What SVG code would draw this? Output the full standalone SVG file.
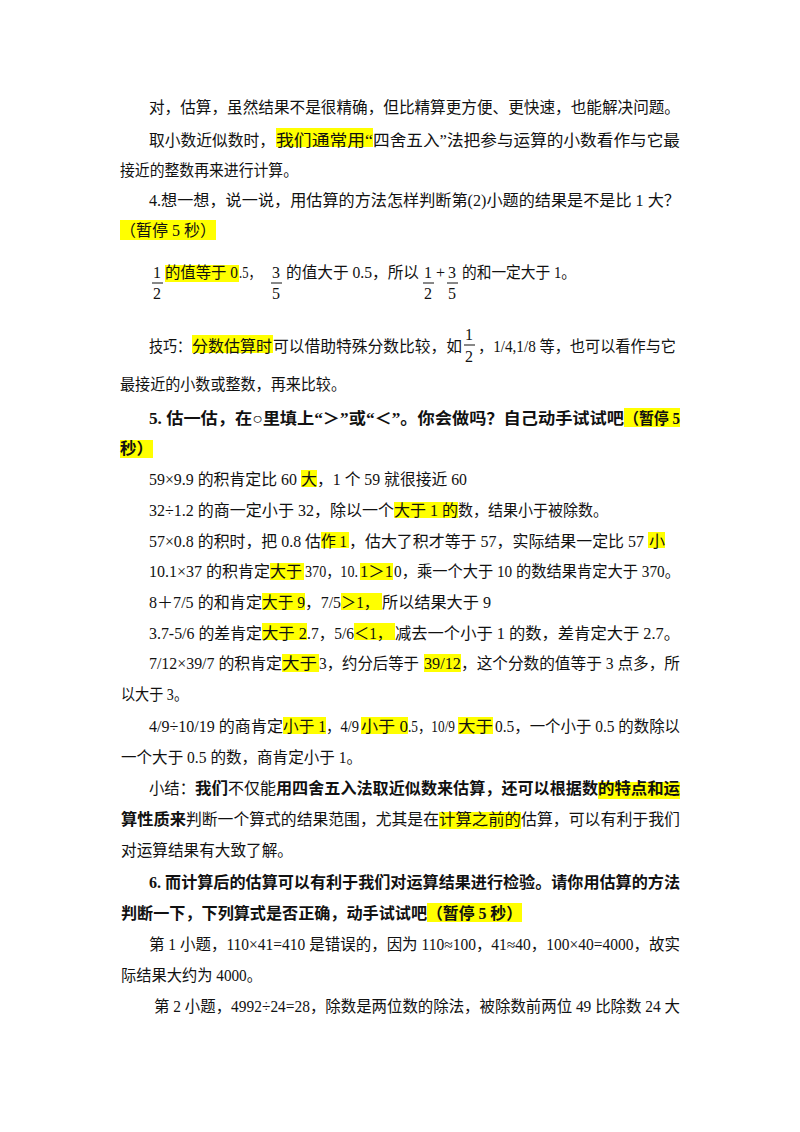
<svg xmlns="http://www.w3.org/2000/svg" width="800" height="1132" viewBox="0 0 800 1132">
<style>
text{font-family:"Liberation Serif","Noto Sans CJK SC",serif;font-size:16px;fill:#111}
.b{font-weight:bold}
.h{fill:#ffff00}
</style>
<rect width="800" height="1132" fill="#fff"/>
<g id="highlights">
<rect class="h" x="276" y="128" width="97" height="19"/>
<rect class="h" x="120" y="220" width="96" height="20"/>
<rect class="h" x="165" y="265" width="74" height="17"/>
<rect class="h" x="192" y="335" width="81" height="18"/>
<rect class="h" x="624" y="408" width="56" height="19"/>
<rect class="h" x="120" y="440" width="33" height="18"/>
<rect class="h" x="301" y="470" width="16" height="17"/>
<rect class="h" x="394" y="502" width="64" height="16"/>
<rect class="h" x="321" y="532" width="28" height="16"/>
<rect class="h" x="648" y="532" width="17" height="16"/>
<rect class="h" x="270" y="563" width="34" height="17"/>
<rect class="h" x="360" y="563" width="33" height="17"/>
<rect class="h" x="262" y="593" width="43" height="17"/>
<rect class="h" x="341" y="593" width="41" height="17"/>
<rect class="h" x="262" y="623" width="45" height="17"/>
<rect class="h" x="354" y="623" width="41" height="17"/>
<rect class="h" x="282" y="654" width="37" height="18"/>
<rect class="h" x="424" y="654" width="37" height="18"/>
<rect class="h" x="283" y="717" width="43" height="17"/>
<rect class="h" x="361" y="717" width="47" height="17"/>
<rect class="h" x="458" y="717" width="35" height="17"/>
<rect class="h" x="598" y="782" width="82" height="17"/>
<rect class="h" x="439" y="812" width="82" height="17"/>
<rect class="h" x="427" y="903" width="95" height="19"/>
</g>
<g id="text">
<text x="149" y="113" textLength="531" lengthAdjust="spacingAndGlyphs">对，估算，虽然结果不是很精确，但比精算更方便、更快速，也能解决问题。</text>
<text x="149" y="146" textLength="126" lengthAdjust="spacingAndGlyphs">取小数近似数时，</text>
<text x="276" y="146" textLength="97" lengthAdjust="spacingAndGlyphs">我们通常用“</text>
<text x="373" y="146" textLength="307" lengthAdjust="spacingAndGlyphs">四舍五入”法把参与运算的小数看作与它最</text>
<text x="120" y="176" textLength="178" lengthAdjust="spacingAndGlyphs">接近的整数再来进行计算。</text>
<text x="149" y="206" textLength="531" lengthAdjust="spacingAndGlyphs">4.想一想，说一说，用估算的方法怎样判断第(2)小题的结果是不是比 1 大？</text>
<text x="120" y="236" textLength="96" lengthAdjust="spacingAndGlyphs">（暂停 5 秒）</text>

<text x="153" y="278">1</text><line x1="152" y1="283" x2="163" y2="283" stroke="#111"/><text x="153" y="299">2</text>
<text x="165" y="278" textLength="73" lengthAdjust="spacingAndGlyphs">的值等于 0</text>
<text x="239" y="278" textLength="22" lengthAdjust="spacingAndGlyphs">.5，</text>
<text x="272" y="278">3</text><line x1="271" y1="283" x2="282" y2="283" stroke="#111"/><text x="272" y="299">5</text>
<text x="286" y="278" textLength="133" lengthAdjust="spacingAndGlyphs">的值大于 0.5，所以</text>
<text x="424" y="278">1</text><line x1="423" y1="283" x2="434" y2="283" stroke="#111"/><text x="424" y="299">2</text>
<text x="436" y="278">+</text>
<text x="448" y="278">3</text><line x1="447" y1="283" x2="458" y2="283" stroke="#111"/><text x="448" y="299">5</text>
<text x="462" y="278" textLength="114" lengthAdjust="spacingAndGlyphs">的和一定大于 1。</text>

<text x="149" y="352" textLength="42" lengthAdjust="spacingAndGlyphs">技巧：</text>
<text x="192" y="352" textLength="80" lengthAdjust="spacingAndGlyphs">分数估算时</text>
<text x="273" y="352" textLength="189" lengthAdjust="spacingAndGlyphs">可以借助特殊分数比较，如</text>
<text x="465" y="340">1</text><line x1="464" y1="345" x2="475" y2="345" stroke="#111"/><text x="465" y="362">2</text>
<text x="478" y="352" textLength="198" lengthAdjust="spacingAndGlyphs">，1/4,1/8 等，也可以看作与它</text>
<text x="120" y="390" textLength="226" lengthAdjust="spacingAndGlyphs">最接近的小数或整数，再来比较。</text>

<text class="b" x="149" y="424" textLength="475" lengthAdjust="spacingAndGlyphs">5. 估一估，在○里填上“＞”或“＜”。你会做吗？自己动手试试吧</text>
<text class="b" x="624" y="424" textLength="56" lengthAdjust="spacingAndGlyphs">（暂停 5</text>
<text class="b" x="120" y="454" textLength="33" lengthAdjust="spacingAndGlyphs">秒）</text>

<text x="149" y="485" textLength="148" lengthAdjust="spacingAndGlyphs">59×9.9 的积肯定比 60</text>
<text x="301" y="485">大</text>
<text x="317" y="485" textLength="150" lengthAdjust="spacingAndGlyphs">，1 个 59 就很接近 60</text>

<text x="149" y="516" textLength="245" lengthAdjust="spacingAndGlyphs">32÷1.2 的商一定小于 32，除以一个</text>
<text x="394" y="516" textLength="64" lengthAdjust="spacingAndGlyphs">大于 1 的</text>
<text x="458" y="516" textLength="150" lengthAdjust="spacingAndGlyphs">数，结果小于被除数。</text>

<text x="149" y="547" textLength="172" lengthAdjust="spacingAndGlyphs">57×0.8 的积时，把 0.8 估</text>
<text x="321" y="547" textLength="26" lengthAdjust="spacingAndGlyphs">作 1</text>
<text x="349" y="547" textLength="295" lengthAdjust="spacingAndGlyphs">，估大了积才等于 57，实际结果一定比 57</text>
<text x="649" y="547">小</text>

<text x="149" y="577" textLength="121" lengthAdjust="spacingAndGlyphs">10.1×37 的积肯定</text>
<text x="270" y="577" textLength="32" lengthAdjust="spacingAndGlyphs">大于</text>
<text x="305" y="577" textLength="53" lengthAdjust="spacingAndGlyphs">370，10.</text>
<text x="360" y="577" textLength="33" lengthAdjust="spacingAndGlyphs">1＞1</text>
<text x="394" y="577" textLength="286" lengthAdjust="spacingAndGlyphs">0，乘一个大于 10 的数结果肯定大于 370。</text>

<text x="149" y="608" textLength="113" lengthAdjust="spacingAndGlyphs">8＋7/5 的和肯定</text>
<text x="262" y="608" textLength="43" lengthAdjust="spacingAndGlyphs">大于 9</text>
<text x="305" y="608" textLength="36" lengthAdjust="spacingAndGlyphs">，7/5</text>
<text x="341" y="608" textLength="38" lengthAdjust="spacingAndGlyphs">＞1，</text>
<text x="382" y="608" textLength="109" lengthAdjust="spacingAndGlyphs">所以结果大于 9</text>

<text x="149" y="639" textLength="113" lengthAdjust="spacingAndGlyphs">3.7-5/6 的差肯定</text>
<text x="262" y="639" textLength="45" lengthAdjust="spacingAndGlyphs">大于 2</text>
<text x="307" y="639" textLength="47" lengthAdjust="spacingAndGlyphs">.7，5/6</text>
<text x="354" y="639" textLength="38" lengthAdjust="spacingAndGlyphs">＜1，</text>
<text x="395" y="639" textLength="285" lengthAdjust="spacingAndGlyphs">减去一个小于 1 的数，差肯定大于 2.7。</text>

<text x="149" y="669" textLength="133" lengthAdjust="spacingAndGlyphs">7/12×39/7 的积肯定</text>
<text x="282" y="669" textLength="35" lengthAdjust="spacingAndGlyphs">大于</text>
<text x="319" y="669" textLength="100" lengthAdjust="spacingAndGlyphs">3，约分后等于</text>
<text x="424" y="669" textLength="37" lengthAdjust="spacingAndGlyphs">39/12</text>
<text x="461" y="669" textLength="219" lengthAdjust="spacingAndGlyphs">，这个分数的值等于 3 点多，所</text>
<text x="121" y="700" textLength="67" lengthAdjust="spacingAndGlyphs">以大于 3。</text>

<text x="149" y="732" textLength="134" lengthAdjust="spacingAndGlyphs">4/9÷10/19 的商肯定</text>
<text x="283" y="732" textLength="43" lengthAdjust="spacingAndGlyphs">小于 1</text>
<text x="326" y="732" textLength="33" lengthAdjust="spacingAndGlyphs">，4/9</text>
<text x="361" y="732" textLength="47" lengthAdjust="spacingAndGlyphs">小于 0</text>
<text x="408" y="732" textLength="47" lengthAdjust="spacingAndGlyphs">.5，10/9</text>
<text x="458" y="732" textLength="35" lengthAdjust="spacingAndGlyphs">大于</text>
<text x="495" y="732" textLength="185" lengthAdjust="spacingAndGlyphs">0.5，一个小于 0.5 的数除以</text>
<text x="121" y="763" textLength="241" lengthAdjust="spacingAndGlyphs">一个大于 0.5 的数，商肯定小于 1。</text>

<text x="149" y="794" textLength="46" lengthAdjust="spacingAndGlyphs">小结：</text>
<text class="b" x="195" y="794" textLength="33" lengthAdjust="spacingAndGlyphs">我们</text>
<text x="228" y="794" textLength="48" lengthAdjust="spacingAndGlyphs">不仅能</text>
<text class="b" x="276" y="794" textLength="322" lengthAdjust="spacingAndGlyphs">用四舍五入法取近似数来估算，还可以根据数</text>
<text class="b" x="598" y="794" textLength="82" lengthAdjust="spacingAndGlyphs">的特点和运</text>
<text class="b" x="121" y="825" textLength="65" lengthAdjust="spacingAndGlyphs">算性质来</text>
<text x="186" y="825" textLength="253" lengthAdjust="spacingAndGlyphs">判断一个算式的结果范围，尤其是在</text>
<text x="439" y="825" textLength="82" lengthAdjust="spacingAndGlyphs">计算之前的</text>
<text x="521" y="825" textLength="159" lengthAdjust="spacingAndGlyphs">估算，可以有利于我们</text>
<text x="121" y="856" textLength="172" lengthAdjust="spacingAndGlyphs">对运算结果有大致了解。</text>

<text class="b" x="149" y="888" textLength="531" lengthAdjust="spacingAndGlyphs">6. 而计算后的估算可以有利于我们对运算结果进行检验。请你用估算的方法</text>
<text class="b" x="121" y="919" textLength="306" lengthAdjust="spacingAndGlyphs">判断一下，下列算式是否正确，动手试试吧</text>
<text class="b" x="427" y="919" textLength="95" lengthAdjust="spacingAndGlyphs">（暂停 5 秒）</text>
<text x="149" y="950" textLength="531" lengthAdjust="spacingAndGlyphs">第 1 小题，110×41=410 是错误的，因为 110≈100，41≈40，100×40=4000，故实</text>
<text x="121" y="981" textLength="141" lengthAdjust="spacingAndGlyphs">际结果大约为 4000。</text>
<text x="154" y="1012" textLength="526" lengthAdjust="spacingAndGlyphs">第 2 小题，4992÷24=28，除数是两位数的除法，被除数前两位 49 比除数 24 大</text>
</g>
</svg>
